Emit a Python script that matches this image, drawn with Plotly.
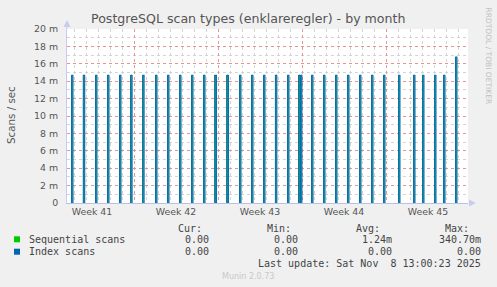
import plotly.graph_objects as go
from datetime import datetime, timedelta

# ---------------- data ----------------
spike_times = [
    "2025-10-07 20:40", "2025-10-08 20:00", "2025-10-09 20:40", "2025-10-10 20:40",
    "2025-10-11 20:40", "2025-10-12 19:00", "2025-10-13 19:00", "2025-10-14 20:40",
    "2025-10-15 20:40", "2025-10-16 20:40", "2025-10-17 20:40", "2025-10-18 20:40",
    "2025-10-19 19:30", "2025-10-20 19:30", "2025-10-21 20:40", "2025-10-22 20:40",
    "2025-10-23 20:40", "2025-10-24 20:20", "2025-10-25 20:40", "2025-10-26 18:50",
    "2025-10-26 22:30", "2025-10-27 20:40", "2025-10-28 20:40", "2025-10-29 20:40",
    "2025-10-30 20:40", "2025-10-31 20:40", "2025-11-01 20:40", "2025-11-02 20:40",
    "2025-11-04 02:40", "2025-11-05 08:40", "2025-11-06 02:40", "2025-11-07 02:40",
    "2025-11-07 20:40", "2025-11-08 20:40",
]
spike_values = [
    0.0147, 0.0147, 0.0147, 0.0147, 0.0147, 0.0147, 0.0147, 0.0147,
    0.0147, 0.0147, 0.0147, 0.0147, 0.0147, 0.0147, 0.0147, 0.0147,
    0.0147, 0.0147, 0.0147, 0.0147, 0.0147, 0.0147, 0.0147, 0.0147,
    0.0147, 0.0147, 0.0147, 0.0147, 0.0147, 0.0147, 0.0147, 0.0147,
    0.0147, 0.0168,
]

y_tickvals = [0, 0.002, 0.004, 0.006, 0.008, 0.010, 0.012, 0.014, 0.016, 0.018, 0.020]
y_ticktext = ["0", "2 m", "4 m", "6 m", "8 m", "10 m", "12 m", "14 m", "16 m", "18 m", "20 m"]

week_centers = ["2025-10-09 12:00", "2025-10-16 12:00", "2025-10-23 12:00",
                "2025-10-30 12:00", "2025-11-06 12:00"]
week_labels = ["Week 41", "Week 42", "Week 43", "Week 44", "Week 45"]

series_names = ["Sequential scans", "Index scans"]
series_colors = ["#00CC00", "#0066B3"]
stat_headers = ["Cur:", "Min:", "Avg:", "Max:"]
stat_cur = ["0.00", "0.00"]
stat_min = ["0.00", "0.00"]
stat_avg = ["1.24m", "0.00"]
stat_max = ["340.70m", "0.00"]
last_update = "Last update: Sat Nov  8 13:00:23 2025"
title_text = "PostgreSQL scan types (enklareregler) - by month"

# ---------------- layout geometry ----------------
W, H = 497, 287
L, R, T, B = 67, 468, 29, 203
PW, PH = R - L, B - T
x_range = ["2025-10-07 10:00", "2025-11-09 20:00"]


def px(x):
    return (x - L) / PW


def py(y):
    return (B - y) / PH


# pulse outlines for the index series (built from spike arrays)
half_h = 1.6
half = timedelta(hours=half_h)
px_x, px_y = [], []
for t, v in zip(spike_times, spike_values):
    tc = datetime.strptime(t, "%Y-%m-%d %H:%M")
    px_x += [tc - half, tc - half, tc + half, tc + half, None]
    px_y += [0, v, v, 0, None]

fig = go.Figure()
fig.add_trace(go.Bar(
    x=spike_times, y=spike_values, width=2 * half_h * 3600 * 1000,
    marker=dict(color="rgb(40,150,140)", line=dict(width=0)),
    name=series_names[0], showlegend=False, hoverinfo="skip",
))
fig.add_trace(go.Scatter(
    x=px_x, y=px_y, mode="lines", line=dict(color=series_colors[1], width=0.8),
    name=series_names[1], showlegend=False, hoverinfo="skip", connectgaps=False,
))
# carrier for the week-label axis
fig.add_trace(go.Scatter(x=week_centers, y=[None] * len(week_centers), xaxis="x2",
                         mode="markers", showlegend=False, hoverinfo="skip"))

font_sans = "DejaVu Sans"
font_mono = "DejaVu Sans Mono"
tick_col = "#555555"

fig.update_layout(
    width=W, height=H,
    margin=dict(l=L, r=W - R, t=T, b=H - B, pad=0),
    paper_bgcolor="#F0F0F0", plot_bgcolor="#FFFFFF",
    bargap=0, showlegend=False,
    font=dict(family=font_sans, color=tick_col),
    xaxis=dict(
        type="date", range=x_range, showticklabels=False,
        tickmode="linear", tick0="2025-10-06", dtick=7 * 86400000,
        showgrid=True, gridcolor="rgba(230,140,140,0.9)", griddash="dot", gridwidth=1,
        minor=dict(tick0="2025-10-06", dtick=86400000, showgrid=True,
                   gridcolor="#D4D4D4", griddash="dot", gridwidth=1),
        showline=True, linecolor="#B8C0E8", linewidth=1, zeroline=False,
        ticks="", fixedrange=True,
    ),
    xaxis2=dict(
        type="date", range=x_range, overlaying="x", side="bottom",
        tickmode="array", tickvals=week_centers, ticktext=week_labels,
        showgrid=False, showline=False, zeroline=False, ticks="",
        tickfont=dict(family=font_sans, size=9.4, color=tick_col),
        ticklabelstandoff=2,
    ),
    yaxis=dict(
        range=[0, 0.020], tickmode="array", tickvals=y_tickvals, ticktext=y_ticktext,
        showgrid=True, gridcolor="rgba(230,140,140,0.9)", griddash="dot", gridwidth=1,
        minor=dict(dtick=0.001, tick0=0, showgrid=True, gridcolor="#D4D4D4",
                   griddash="dot", gridwidth=1),
        showline=True, linecolor="#C8CCF0", linewidth=1, zeroline=False,
        ticks="", tickfont=dict(family=font_sans, size=9.4, color=tick_col),
        ticklabelstandoff=6,
    ),
)

ann = []
ann.append(dict(text=title_text, x=px(248.3), y=py(19), xref="paper", yref="paper",
                xanchor="center", yanchor="middle", showarrow=False,
                font=dict(family=font_sans, size=12.6, color="#555555")))
ann.append(dict(text="Scans / sec", x=px(11), y=py(115), xref="paper", yref="paper",
                xanchor="center", yanchor="middle", textangle=-90, showarrow=False,
                font=dict(family=font_sans, size=10.3, color="#555555")))
ann.append(dict(text="RRDTOOL / TOBI OETIKER", x=px(488), y=py(5), xref="paper", yref="paper",
                xanchor="center", yanchor="top", textangle=90, showarrow=False,
                font=dict(family=font_sans, size=7.5, color="#C0C0C0")))

mono = dict(family=font_mono, size=10, color="#444444")
hdr_right = [204, 293, 381.7, 470.7]
val_right = [210.7, 300, 394, 483]
for h, xr in zip(stat_headers, hdr_right):
    ann.append(dict(text=h, x=px(xr), y=py(228.3), xref="paper", yref="paper",
                    xanchor="right", yanchor="middle", showarrow=False, font=mono))
row_y = [239.3, 251.7]
shapes = []
for i, name in enumerate(series_names):
    ann.append(dict(text=name, x=px(26.7), y=py(row_y[i]), xref="paper", yref="paper",
                    xanchor="left", yanchor="middle", showarrow=False, font=mono))
    for vals, xr in zip([stat_cur, stat_min, stat_avg, stat_max], val_right):
        ann.append(dict(text=vals[i], x=px(xr), y=py(row_y[i]), xref="paper", yref="paper",
                        xanchor="right", yanchor="middle", showarrow=False, font=mono))
    shapes.append(dict(type="rect", xref="paper", yref="paper",
                       x0=px(14), x1=px(20), y0=py(row_y[i] + 3), y1=py(row_y[i] - 3),
                       fillcolor=series_colors[i], line=dict(width=0)))
ann.append(dict(text=last_update, x=px(482.7), y=py(263.7), xref="paper", yref="paper",
                xanchor="right", yanchor="middle", showarrow=False, font=mono))
ann.append(dict(text="Munin 2.0.73", x=px(248), y=py(276), xref="paper", yref="paper",
                xanchor="center", yanchor="middle", showarrow=False,
                font=dict(family=font_sans, size=8, color="#C8C8C8")))

# axis arrows
shapes.append(dict(type="path", xref="paper", yref="paper",
                   path=f"M {px(469)} {py(199.5)} L {px(476)} {py(203)} L {px(469)} {py(206.5)} Z",
                   fillcolor="#C8CCF0", line=dict(width=0)))
shapes.append(dict(type="path", xref="paper", yref="paper",
                   path=f"M {px(63.5)} {py(27)} L {px(67)} {py(20)} L {px(70.5)} {py(27)} Z",
                   fillcolor="#C8CCF0", line=dict(width=0)))
shapes.append(dict(type="line", xref="paper", yref="paper",
                   x0=px(67), x1=px(67), y0=py(29), y1=py(25),
                   line=dict(color="#C8CCF0", width=1)))

fig.update_layout(annotations=ann, shapes=shapes)
fig.write_html("out.html")
